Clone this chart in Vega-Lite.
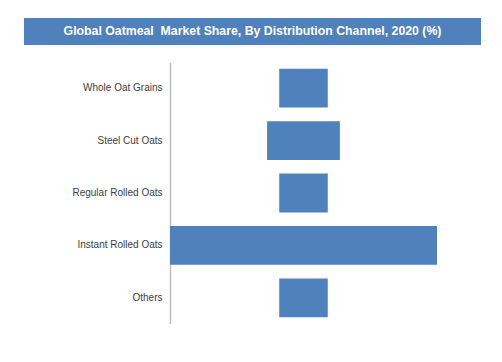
{
  "$schema": "https://vega.github.io/schema/vega-lite/v6.json",
  "padding": {"left": 24, "top": 18, "right": 0, "bottom": 0},
  "background": "white",
  "bounds": "flush",
  "spacing": 17,
  "config": {"view": {"stroke": null}},
  "vconcat": [
    {
      "width": 457,
      "height": 27,
      "view": {"fill": "#4f81bd", "stroke": null},
      "data": {"values": [{"title": "Global Oatmeal\u00a0 Market Share, By Distribution Channel, 2020 (%)"}]},
      "mark": {"type": "text", "color": "white", "fontWeight": "bold", "fontSize": 12.3, "font": "Liberation Sans, sans-serif", "dy": -1},
      "encoding": {"text": {"field": "title", "type": "nominal"}}
    },
    {
      "width": 457,
      "height": 262,
      "data": {"values": [
        {"channel": "Whole Oat Grains", "share": 10},
        {"channel": "Steel Cut Oats", "share": 15},
        {"channel": "Regular Rolled Oats", "share": 10},
        {"channel": "Instant Rolled Oats", "share": 55},
        {"channel": "Others", "share": 10}
      ]},
      "mark": {"type": "bar", "color": "#4f81bd"},
      "encoding": {
        "y": {
          "field": "channel", "type": "nominal", "sort": null,
          "scale": {"paddingInner": 0.26, "paddingOuter": 0.13},
          "axis": {"title": null, "offset": -146, "domainColor": "#bfbfbf", "domainWidth": 1.5, "ticks": false, "labelPadding": 8, "labelFontSize": 10, "labelColor": "#404040", "labelFont": "Liberation Sans, sans-serif"}
        },
        "x": {
          "field": "share", "type": "quantitative", "stack": "center",
          "scale": {"domain": [-30.075, 64.065], "nice": false, "zero": false},
          "axis": null
        }
      }
    }
  ]
}
